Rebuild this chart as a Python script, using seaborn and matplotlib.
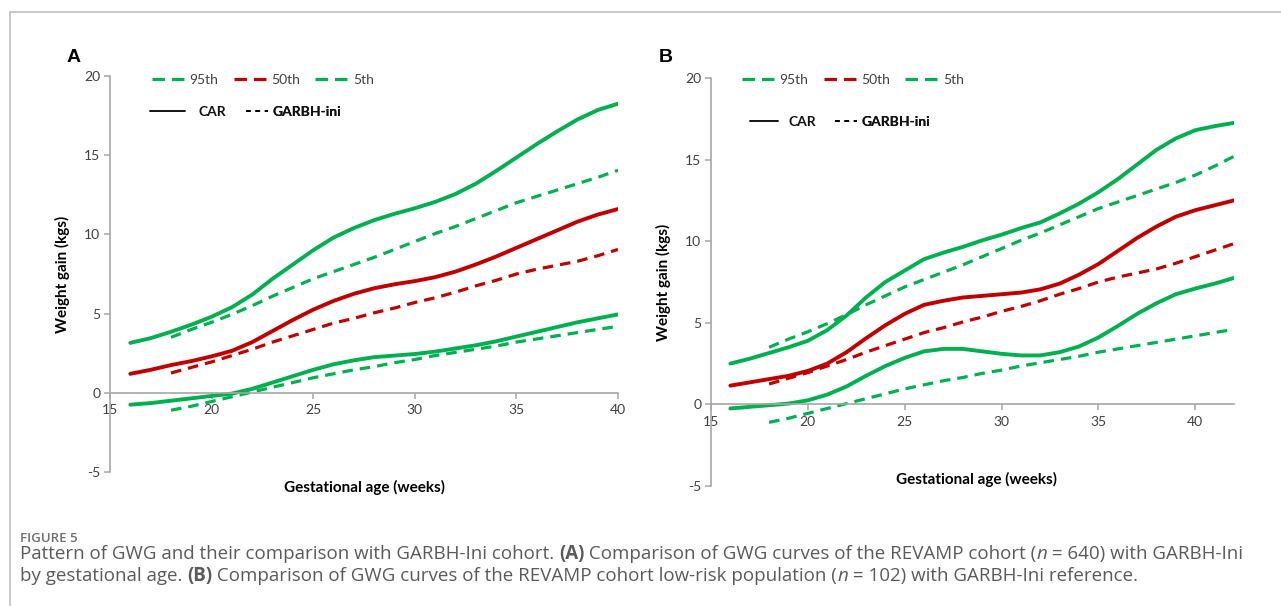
import matplotlib
matplotlib.use("Agg")
import matplotlib.pyplot as plt
import seaborn as sns
from matplotlib.lines import Line2D

# ---------------- data ----------------
weeks_a = list(range(16, 41))
weeks_b = list(range(16, 43))
weeks_g_a = list(range(18, 41))
weeks_g_b = list(range(18, 43))

car95_a = [3.15, 3.45, 3.85, 4.3, 4.8, 5.4, 6.2, 7.2, 8.1, 9.0, 9.8, 10.4, 10.9, 11.3, 11.65,
           12.05, 12.55, 13.2, 14.0, 14.85, 15.7, 16.5, 17.25, 17.85, 18.25]
car50_a = [1.2, 1.45, 1.75, 2.0, 2.3, 2.65, 3.2, 3.9, 4.6, 5.25, 5.8, 6.25, 6.6, 6.85, 7.05,
           7.3, 7.65, 8.1, 8.6, 9.15, 9.7, 10.25, 10.8, 11.25, 11.6]
car5_a = [-0.75, -0.65, -0.5, -0.35, -0.2, -0.05, 0.25, 0.65, 1.05, 1.45, 1.8, 2.05, 2.25, 2.35,
          2.45, 2.6, 2.8, 3.0, 3.25, 3.55, 3.85, 4.15, 4.45, 4.7, 4.95]

garbh95 = [3.5, 4.0, 4.45, 4.95, 5.5, 6.1, 6.65, 7.2, 7.65, 8.1, 8.55, 9.05, 9.55, 10.05, 10.5,
           11.0, 11.5, 12.0, 12.4, 12.8, 13.2, 13.6, 14.05, 14.6, 15.2]
garbh50 = [1.25, 1.6, 1.95, 2.35, 2.75, 3.2, 3.6, 4.0, 4.4, 4.7, 5.05, 5.35, 5.7, 6.0, 6.35,
           6.75, 7.1, 7.5, 7.8, 8.05, 8.3, 8.65, 9.05, 9.45, 9.85]
garbh5 = [-1.1, -0.85, -0.55, -0.25, 0.05, 0.35, 0.65, 0.95, 1.2, 1.45, 1.65, 1.9, 2.1, 2.35,
          2.55, 2.75, 2.95, 3.2, 3.4, 3.6, 3.8, 4.0, 4.2, 4.4, 4.6]

car95_b = [2.5, 2.8, 3.15, 3.5, 3.9, 4.55, 5.45, 6.55, 7.5, 8.2, 8.9, 9.3, 9.65, 10.05, 10.4,
           10.8, 11.15, 11.7, 12.3, 13.0, 13.8, 14.7, 15.6, 16.3, 16.8, 17.05, 17.25]
car50_b = [1.15, 1.35, 1.55, 1.75, 2.05, 2.5, 3.2, 4.05, 4.85, 5.55, 6.1, 6.35, 6.55, 6.65, 6.75,
           6.85, 7.05, 7.4, 7.95, 8.6, 9.4, 10.2, 10.9, 11.5, 11.9, 12.2, 12.5]
car5_b = [-0.25, -0.15, -0.05, 0.05, 0.25, 0.6, 1.1, 1.75, 2.35, 2.85, 3.25, 3.4, 3.4, 3.25, 3.1,
          3.0, 3.0, 3.2, 3.55, 4.1, 4.8, 5.55, 6.2, 6.75, 7.1, 7.4, 7.75]

x_ticks_a = [15, 20, 25, 30, 35, 40]
x_ticks_b = [15, 20, 25, 30, 35, 40]
y_ticks = [-5, 0, 5, 10, 15, 20]
pct_labels = ["95th", "50th", "5th"]
src_labels = ["CAR", "GARBH-ini"]

GREEN = "#00B050"
RED = "#C00000"
SPINE = "#a6a6a6"
TICK = "#404040"

sns.set_theme(style="white")
plt.rcParams["font.family"] = ["Lato", "DejaVu Sans"]

fig = plt.figure(figsize=(12.81, 6.06), dpi=100)
W, H = 1281, 606


def px_axes(l, r, t, b):
    return fig.add_axes([l / W, 1 - b / H, (r - l) / W, (b - t) / H])


ax_a = px_axes(110, 618, 76, 472)
ax_b = px_axes(711, 1234, 78, 486)

DASH = (3.3, 2.2)
LEG_DASH = (3.9, 2.2)


def draw_panel(ax, weeks, c95, c50, c5, gweeks, g95, g50, g5, xmax, xticks):
    lw_s, lw_d = 2.8, 2.3
    for vals, col in [(c95, GREEN), (c50, RED), (c5, GREEN)]:
        sns.lineplot(x=weeks, y=vals, ax=ax, color=col, linewidth=lw_s)
    for vals, col in [(g95, GREEN), (g50, RED), (g5, GREEN)]:
        sns.lineplot(x=gweeks, y=vals, ax=ax, color=col, linewidth=lw_d)
        ax.lines[-1].set_dashes(DASH)
    ax.set_xlim(15, xmax)
    ax.set_ylim(-5, 20)
    for s in ["top", "right"]:
        ax.spines[s].set_visible(False)
    for s in ["left", "bottom"]:
        ax.spines[s].set_color(SPINE)
        ax.spines[s].set_linewidth(1.2)
    ax.spines["bottom"].set_position(("data", 0))
    ax.set_xticks(xticks)
    ax.set_yticks(y_ticks)
    ax.set_yticklabels([str(v) for v in y_ticks])
    ax.tick_params(axis="both", which="both", direction="out", length=4, width=1.1,
                   color=SPINE, labelcolor=TICK, labelsize=10, pad=3,
                   left=True, bottom=True)
    ax.tick_params(axis="x", pad=4)
    ax.set_ylabel("Weight gain (kgs)", fontsize=11, fontweight="bold", color="#000000", labelpad=10)
    ax.set_xlabel("")
    ax.grid(False)
    ax.set_facecolor("none")


def legend_row1(ax, anchor):
    h1 = [Line2D([], [], color=GREEN, lw=2.3, dashes=LEG_DASH),
          Line2D([], [], color=RED, lw=2.3, dashes=LEG_DASH),
          Line2D([], [], color=GREEN, lw=2.3, dashes=LEG_DASH)]
    leg = ax.legend(h1, pct_labels, ncol=3, frameon=False, loc="upper left",
                    bbox_to_anchor=anchor, handlelength=2.7, handletextpad=0.0,
                    columnspacing=1.1, fontsize=10, borderaxespad=0, borderpad=0)
    for t in leg.get_texts():
        t.set_color(TICK)
    ax.add_artist(leg)


def legend_single(ax, handle, label, anchor, hl, pad):
    leg = ax.legend([handle], [label], frameon=False, loc="upper left",
                    bbox_to_anchor=anchor, handlelength=hl, handletextpad=pad,
                    fontsize=10, borderaxespad=0, borderpad=0)
    for t in leg.get_texts():
        t.set_fontweight("bold")
        t.set_color("#111111")
    ax.add_artist(leg)


draw_panel(ax_a, weeks_a, car95_a, car50_a, car5_a, weeks_g_a, garbh95[:23], garbh50[:23],
           garbh5[:23], 40, x_ticks_a)
draw_panel(ax_b, weeks_b, car95_b, car50_b, car5_b, weeks_g_b, garbh95, garbh50, garbh5, 42,
           x_ticks_b)


def fx(ax, px):
    bb = ax.get_position()
    return (px / W - bb.x0) / bb.width


def fy(ax, py):
    bb = ax.get_position()
    return ((1 - py / H) - bb.y0) / bb.height


legend_row1(ax_a, (fx(ax_a, 152), fy(ax_a, 74)))
legend_row1(ax_b, (fx(ax_b, 742), fy(ax_b, 74)))

solid = Line2D([], [], color="#000000", lw=1.3)
dotted = Line2D([], [], color="#000000", lw=1.3, dashes=(2.6, 2.6))
legend_single(ax_a, solid, src_labels[0], (fx(ax_a, 150), fy(ax_a, 106)), 2.5, 1.0)
legend_single(ax_a, dotted, src_labels[1], (fx(ax_a, 246), fy(ax_a, 106)), 1.6, 0.3)
legend_single(ax_b, solid, src_labels[0], (fx(ax_b, 750), fy(ax_b, 116)), 2.0, 0.8)
legend_single(ax_b, dotted, src_labels[1], (fx(ax_b, 835), fy(ax_b, 116)), 1.6, 0.3)

# x labels
fig.text(364 / W, 1 - 487 / H, "Gestational age (weeks)", ha="center", va="center",
         fontsize=11, fontweight="bold", color="#000000")
fig.text(977 / W, 1 - 479 / H, "Gestational age (weeks)", ha="center", va="center",
         fontsize=11, fontweight="bold", color="#000000")

# panel letters
fig.text(67 / W, 1 - 57 / H, "A", ha="left", va="center", fontsize=14, fontweight="bold",
         family=["Liberation Sans", "DejaVu Sans"], color="#000000")
fig.text(659 / W, 1 - 57 / H, "B", ha="left", va="center", fontsize=14, fontweight="bold",
         family=["Liberation Sans", "DejaVu Sans"], color="#000000")

# frame lines
fig.add_artist(Line2D([10 / W, 1], [1 - 12 / H, 1 - 12 / H], transform=fig.transFigure,
                      color="#bfbfbf", lw=1.2))
fig.add_artist(Line2D([10 / W, 10 / W], [0, 1 - 12 / H], transform=fig.transFigure,
                      color="#bfbfbf", lw=1.2))

# caption
CAP = ["Open Sans", "DejaVu Sans"]
fig.text(20 / W, 1 - 538 / H, "FIGURE 5", ha="left", va="center", fontsize=9.5,
         fontweight="semibold", family=CAP, color="#6e6e6e")

fig.canvas.draw()
renderer = fig.canvas.get_renderer()


def runs(x0, y0, parts, size):
    x = x0
    for txt, weight, style in parts:
        t = fig.text(x / W, 1 - y0 / H, txt, ha="left", va="center", fontsize=size,
                     fontweight=weight, fontstyle=style, family=CAP, color="#5a5a5a")
        bb = t.get_window_extent(renderer=renderer)
        x += bb.width


runs(20, 554, [("Pattern of GWG and their comparison with GARBH-Ini cohort. ", "normal", "normal"),
               ("(A)", "bold", "normal"),
               (" Comparison of GWG curves of the REVAMP cohort (", "normal", "normal"),
               ("n", "normal", "italic"),
               (" = 640) with GARBH-Ini", "normal", "normal")], 13.5)
runs(20, 576, [("by gestational age. ", "normal", "normal"),
               ("(B)", "bold", "normal"),
               (" Comparison of GWG curves of the REVAMP cohort low-risk population (", "normal", "normal"),
               ("n", "normal", "italic"),
               (" = 102) with GARBH-Ini reference.", "normal", "normal")], 13.5)

fig.savefig("out.png", dpi=100, facecolor="white")
